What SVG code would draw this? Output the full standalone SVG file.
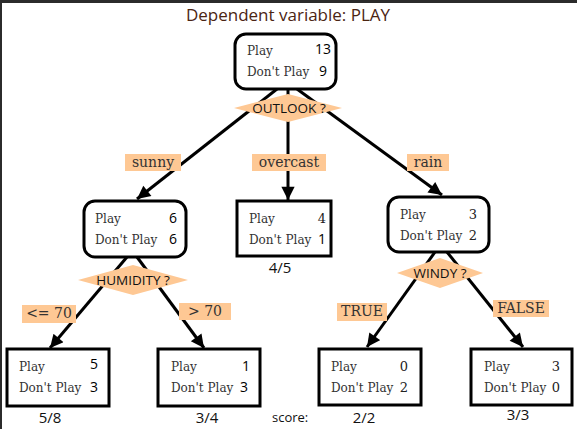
<svg xmlns="http://www.w3.org/2000/svg" width="577" height="429" viewBox="0 0 577 429">
<defs>
<marker id="arr" viewBox="0 0 10 10" refX="10" refY="5" markerWidth="5" markerHeight="4.4" orient="auto" markerUnits="strokeWidth">
<path d="M0,0 L10,5 L0,10 z" fill="#000"/>
</marker>
<style>
.node{fill:#fff;stroke:#000;stroke-width:3}
.edge{stroke:#000;stroke-width:3;fill:none}
.arrow{marker-end:url(#arr)}
.peach{fill:#fec894;stroke:none}
.lbl{font-family:"DejaVu Serif","Liberation Serif",serif;font-size:12px;fill:#333}
.num{font-family:"Open Sans","DejaVu Sans",sans-serif;font-size:14px;fill:#000;text-anchor:end}
.snum{font-family:"DejaVu Serif","Liberation Serif",serif;font-size:13px;fill:#222;text-anchor:end}
.elbl{font-family:"DejaVu Serif","Liberation Serif",serif;font-size:14px;fill:#333;text-anchor:middle}
.q{font-family:"Open Sans","DejaVu Sans",sans-serif;font-size:13.5px;fill:#111;text-anchor:middle}
.score{font-family:"Open Sans","DejaVu Sans",sans-serif;font-size:15px;fill:#111;text-anchor:middle}
</style>
</defs>
<rect width="577" height="429" fill="#fff"/>
<rect x="0" y="0" width="577" height="3" fill="#2b2b2b"/>
<rect x="0" y="0" width="2" height="429" fill="#2b2b2b"/>
<text x="288" y="21" text-anchor="middle" font-family="'Open Sans','DejaVu Sans',sans-serif" font-size="17" fill="#4b2412">Dependent variable: PLAY</text>

<g id="connectors">
<line class="edge arrow" x1="277" y1="89" x2="137" y2="199"/>
<line class="edge arrow" x1="288" y1="89" x2="288" y2="200"/>
<line class="edge arrow" x1="297" y1="89" x2="442" y2="195"/>
<line class="edge arrow" x1="127" y1="257" x2="50" y2="348"/>
<line class="edge arrow" x1="137" y1="257" x2="204" y2="348"/>
<line class="edge arrow" x1="435" y1="252" x2="367" y2="347"/>
<line class="edge arrow" x1="447" y1="252" x2="523" y2="347"/>
<rect class="peach" x="125" y="154" width="56" height="17"/>
<text class="elbl" x="153" y="167">sunny</text>
<rect class="peach" x="252" y="154" width="74" height="17"/>
<text class="elbl" x="289" y="167">overcast</text>
<rect class="peach" x="407" y="154" width="42" height="17"/>
<text class="elbl" x="428" y="167">rain</text>
<rect class="peach" x="22" y="305" width="54" height="18"/>
<text class="elbl" x="49" y="318" font-size="12.5">&lt;= 70</text>
<rect class="peach" x="179" y="303" width="52" height="17"/>
<text class="elbl" x="205" y="316" font-size="12.5">&gt; 70</text>
<rect class="peach" x="337" y="303" width="50" height="18"/>
<text class="elbl" x="362" y="316" font-size="12.5">TRUE</text>
<rect class="peach" x="493" y="300" width="56" height="17"/>
<text class="elbl" x="521" y="313" font-size="12.5">FALSE</text>
</g>

<g id="root">
<rect class="node" x="235" y="34" width="101" height="55" rx="11"/>
<text class="lbl" x="247" y="55">Play</text>
<text class="lbl" x="247" y="76">Don't Play</text>
<text class="num" x="331" y="54">13</text>
<text class="num" x="327" y="76">9</text>
</g>
<g id="outlook">
<polygon class="peach" points="234,108 288,94 342,108 288,122"/>
<text class="q" x="289" y="113">OUTLOOK ?</text>
</g>

<g id="sunny">
<rect class="node" x="84" y="201" width="102" height="56" rx="11"/>
<text class="lbl" x="95" y="223">Play</text>
<text class="lbl" x="95" y="244">Don't Play</text>
<text class="num" x="177" y="223">6</text>
<text class="num" x="177" y="244">6</text>
</g>
<g id="humidity">
<polygon class="peach" points="78,280 133,265 188,280 133,295"/>
<text class="q" x="133" y="285">HUMIDITY ?</text>
</g>

<g id="overcast">
<rect class="node" x="237" y="201" width="94" height="55"/>
<text class="lbl" x="249" y="223">Play</text>
<text class="lbl" x="249" y="244">Don't Play</text>
<text class="snum" x="326" y="223">4</text>
<text class="num" x="326" y="244" fill="#00008b">1</text>
<text class="score" x="280" y="273">4/5</text>
</g>

<g id="rain">
<rect class="node" x="388" y="197" width="101" height="55" rx="11"/>
<text class="lbl" x="400" y="219">Play</text>
<text class="lbl" x="400" y="240">Don't Play</text>
<text class="snum" x="477" y="219">3</text>
<text class="snum" x="477" y="240">2</text>
</g>
<g id="windy">
<polygon class="peach" points="397,273 440,258 483,273 440,288"/>
<text class="q" x="440" y="278">WINDY ?</text>
</g>

<g id="leaf1">
<rect class="node" x="7" y="349" width="102" height="57"/>
<text class="lbl" x="19" y="371">Play</text>
<text class="lbl" x="19" y="392">Don't Play</text>
<text class="num" x="98" y="369">5</text>
<text class="num" x="98" y="392">3</text>
<text class="score" x="50" y="423">5/8</text>
</g>
<g id="leaf2">
<rect class="node" x="158" y="349" width="102" height="57"/>
<text class="lbl" x="171" y="371">Play</text>
<text class="lbl" x="171" y="392">Don't Play</text>
<text class="num" x="250" y="371">1</text>
<text class="num" x="248" y="392">3</text>
<text class="score" x="207" y="423">3/4</text>
</g>
<g id="leaf3">
<rect class="node" x="319" y="349" width="102" height="56"/>
<text class="lbl" x="331" y="371">Play</text>
<text class="lbl" x="331" y="392">Don't Play</text>
<text class="snum" x="408" y="371">0</text>
<text class="snum" x="408" y="392">2</text>
<text class="score" x="364" y="423">2/2</text>
</g>
<g id="leaf4">
<rect class="node" x="471" y="349" width="101" height="56"/>
<text class="lbl" x="484" y="371">Play</text>
<text class="lbl" x="484" y="392">Don't Play</text>
<text class="snum" x="560" y="371">3</text>
<text class="snum" x="560" y="392">0</text>
<text class="score" x="518" y="420">3/3</text>
</g>
<text x="272" y="422" font-family="'Open Sans','DejaVu Sans',sans-serif" font-size="13" fill="#111">score:</text>
</svg>
